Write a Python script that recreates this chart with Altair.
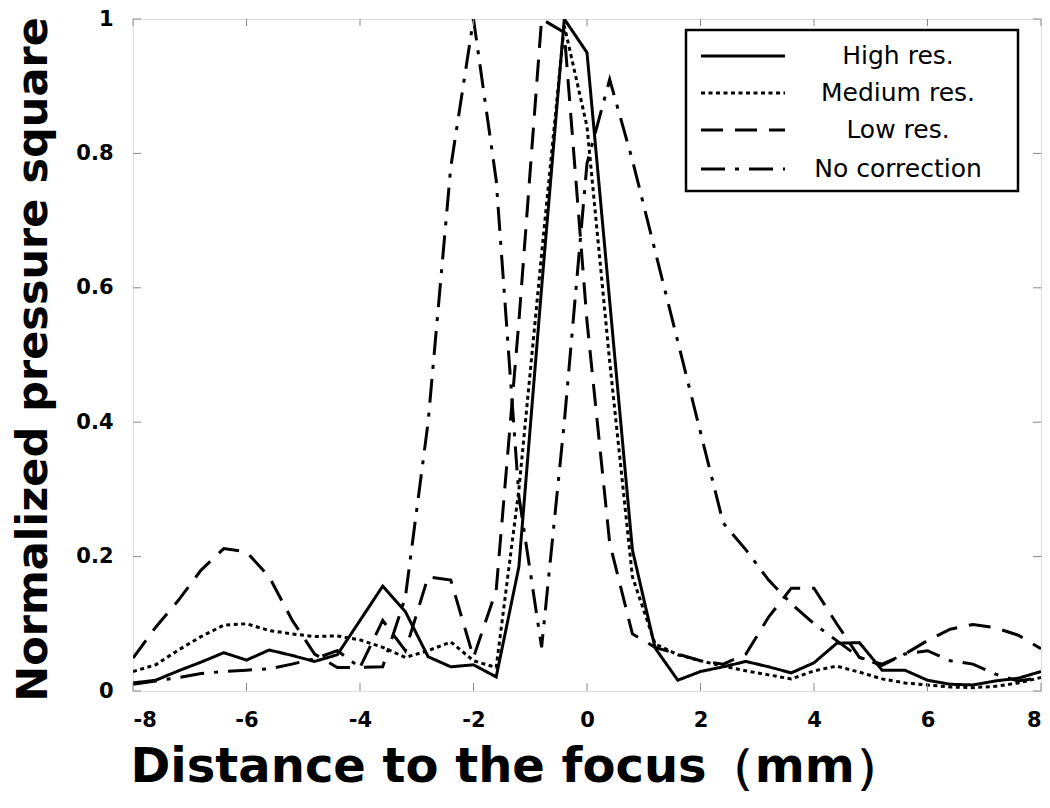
import altair as alt
import pandas as pd

# distance to the focus (mm)
x_mm = [-8.0, -7.6, -7.2, -6.8, -6.4, -6.0, -5.6, -5.2, -4.8, -4.4, -4.0,
        -3.6, -3.2, -2.8, -2.4, -2.0, -1.6, -1.2, -0.8, -0.4, 0.0,
        0.4, 0.8, 1.2, 1.6, 2.0, 2.4, 2.8, 3.2, 3.6, 4.0,
        4.4, 4.8, 5.2, 5.6, 6.0, 6.4, 6.8, 7.2, 7.6, 8.0]

high_res = [0.012, 0.016, 0.030, 0.043, 0.057, 0.046, 0.061, 0.053, 0.044, 0.054, 0.105,
            0.156, 0.118, 0.051, 0.036, 0.039, 0.021, 0.185, 0.600, 1.000, 0.950,
            0.580, 0.210, 0.064, 0.016, 0.029, 0.036, 0.044, 0.036, 0.027, 0.042,
            0.071, 0.072, 0.031, 0.031, 0.016, 0.010, 0.009, 0.015, 0.019, 0.029]

medium_res = [0.029, 0.039, 0.061, 0.081, 0.098, 0.100, 0.090, 0.085, 0.081, 0.082, 0.076,
              0.065, 0.050, 0.060, 0.073, 0.045, 0.035, 0.300, 0.650, 0.990, 0.840,
              0.490, 0.170, 0.070, 0.054, 0.045, 0.037, 0.030, 0.024, 0.018, 0.030,
              0.037, 0.028, 0.018, 0.012, 0.009, 0.006, 0.005, 0.007, 0.012, 0.020]

low_res = [0.049, 0.095, 0.135, 0.180, 0.212, 0.207, 0.170, 0.106, 0.055, 0.035, 0.035,
           0.105, 0.060, 0.170, 0.165, 0.050, 0.150, 0.550, 1.000, 0.980, 0.550,
           0.220, 0.085, 0.065, 0.055, 0.045, 0.040, 0.055, 0.110, 0.153, 0.153,
           0.100, 0.050, 0.040, 0.055, 0.075, 0.092, 0.099, 0.094, 0.083, 0.063]

no_correction = [0.010, 0.015, 0.020, 0.026, 0.029, 0.031, 0.033, 0.040, 0.048, 0.060, 0.035,
                 0.036, 0.140, 0.400, 0.780, 1.000, 0.760, 0.290, 0.065, 0.400, 0.785,
                 0.910, 0.790, 0.655, 0.520, 0.385, 0.250, 0.210, 0.165, 0.130, 0.100,
                 0.075, 0.050, 0.038, 0.055, 0.060, 0.045, 0.040, 0.025, 0.015, 0.020]

series_names = ["High res.", "Medium res.", "Low res.", "No correction"]
series_values = [high_res, medium_res, low_res, no_correction]
series_dash = [[1, 0], [4, 3.5], [22, 12], [24, 10, 4, 10]]

x_ticks = [-8, -6, -4, -2, 0, 2, 4, 6, 8]
y_ticks = [0, 0.2, 0.4, 0.6, 0.8, 1]

W, H = 908, 672
FONT = "DejaVu Sans"

xscale = alt.Scale(domain=[-8, 8], nice=False, zero=False)
yscale = alt.Scale(domain=[0, 1], nice=False)

x_axis = alt.Axis(values=x_ticks, labelExpr="datum.value + ''", ticks=False, domain=False,
                  grid=False, labelFont=FONT, labelFontWeight="bold", labelFontSize=21,
                  labelColor="black", labelPadding=18,
                  title="Distance to the focus（mm）", titleFont=FONT, titleFontWeight="bold",
                  titleFontSize=48, titleColor="black", titleAnchor="start", titleAlign="left",
                  titleX=-3, titleY=90, titleBaseline="alphabetic")
y_axis = alt.Axis(values=y_ticks, labelExpr="datum.value + ''", ticks=False, domain=False,
                  grid=False, labelFont=FONT, labelFontWeight="bold", labelFontSize=21,
                  labelColor="black", labelPadding=20,
                  title="Normalized pressure square", titleFont=FONT, titleFontWeight="bold",
                  titleFontSize=43, titleColor="black", titleAngle=270, titleAlign="center",
                  titleX=-87, titleY=H / 2 + 4, titleBaseline="alphabetic")

layers = []
for name, vals, dash in zip(series_names[::-1], series_values[::-1], series_dash[::-1]):
    df = pd.DataFrame({"x": x_mm, "y": vals})
    layers.append(
        alt.Chart(df).mark_line(color="black", strokeWidth=3, strokeDash=dash,
                                strokeJoin="miter", clip=True).encode(
            x=alt.X("x:Q", scale=xscale, axis=x_axis),
            y=alt.Y("y:Q", scale=yscale, axis=y_axis),
            order="x:Q",
        )
    )

xt = pd.DataFrame({"t": x_ticks})
yt = pd.DataFrame({"t": y_ticks})
tick_color = "#8a8a8a"
layers += [
    alt.Chart(yt).mark_rule(color=tick_color, strokeWidth=1).encode(
        y=alt.Y("t:Q", scale=yscale), x=alt.value(0), x2=alt.value(8)),
    alt.Chart(yt).mark_rule(color=tick_color, strokeWidth=1).encode(
        y=alt.Y("t:Q", scale=yscale), x=alt.value(W - 8), x2=alt.value(W)),
    alt.Chart(xt).mark_rule(color=tick_color, strokeWidth=1).encode(
        x=alt.X("t:Q", scale=xscale), y=alt.value(H - 8), y2=alt.value(H)),
    alt.Chart(xt).mark_rule(color=tick_color, strokeWidth=1).encode(
        x=alt.X("t:Q", scale=xscale), y=alt.value(0), y2=alt.value(7)),
]

# legend
leg = pd.DataFrame({"name": series_names})
box_x0, box_x1, box_y0, box_y1 = 553, 885, 11, 172
row_y = [37, 74, 111, 150]
layers.append(
    alt.Chart(leg.iloc[:1]).mark_rect(fill="white", stroke="black", strokeWidth=2.5).encode(
        x=alt.value(box_x0), x2=alt.value(box_x1), y=alt.value(box_y0), y2=alt.value(box_y1))
)
for i, (name, dash) in enumerate(zip(series_names, series_dash)):
    sub = leg.iloc[i:i + 1]
    layers.append(
        alt.Chart(sub).mark_rule(color="black", strokeWidth=3, strokeDash=dash).encode(
            x=alt.value(568), x2=alt.value(652), y=alt.value(row_y[i]))
    )
    layers.append(
        alt.Chart(sub).mark_text(font=FONT, fontSize=25, color="black", align="center",
                                 baseline="middle").encode(
            x=alt.value(765), y=alt.value(row_y[i]), text="name:N")
    )

chart = alt.layer(*layers).properties(
    width=W, height=H,
    autosize=alt.AutoSizeParams(type="none"),
    padding={"left": 125, "top": 11, "right": 1, "bottom": 103},
).configure_view(stroke="black", strokeWidth=3).configure(background="white")

chart.save("out.html", embed_options={"renderer": "svg", "actions": False})
